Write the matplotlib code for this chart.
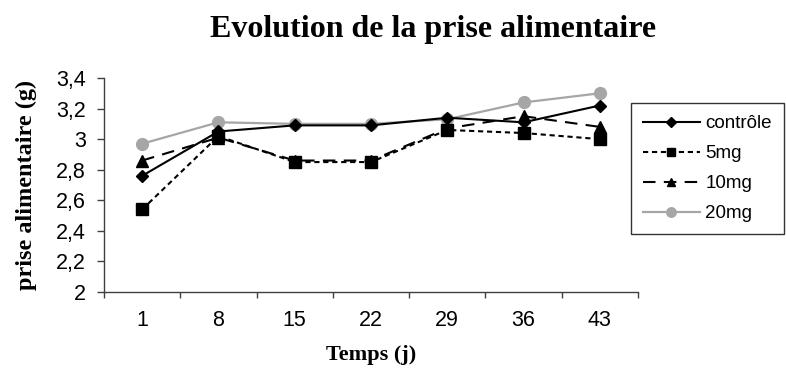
import numpy as np
import matplotlib.pyplot as plt

jours = ["1", "8", "15", "22", "29", "36", "43"]
controle = [2.76, 3.05, 3.09, 3.09, 3.14, 3.11, 3.22]
dose_5mg = [2.54, 3.02, 2.85, 2.85, 3.06, 3.04, 3.00]
dose_10mg = [2.86, 3.01, 2.86, 2.86, 3.07, 3.15, 3.08]
dose_20mg = [2.97, 3.11, 3.10, 3.10, 3.13, 3.24, 3.30]

fig = plt.figure(figsize=(7.86, 3.71), dpi=100)
ax = fig.add_axes([0.1323, 0.2129, 0.6794, 0.5769])

x = np.arange(len(jours))
ax.plot(x, dose_20mg, color="#a6a6a6", lw=1.6, marker="o", ms=8.5, label="20mg", zorder=2)
ax.plot(x, dose_10mg, color="black", lw=1.5, ls=(0, (6, 4)), marker="^", ms=8, label="10mg", zorder=3)
ax.plot(x, dose_5mg, color="black", lw=1.5, ls=(0, (2.5, 1.8)), marker="s", ms=8, label="5mg", zorder=4)
ax.plot(x, controle, color="black", lw=1.5, marker="D", ms=6, label="contrôle", zorder=5)

ax.set_xlim(-0.5, len(jours) - 0.5)
ax.set_ylim(2, 3.4)
ax.set_xticks(np.arange(-0.5, len(jours)))
ax.set_xticklabels([])
ax.set_xticks(x, minor=True)
ax.set_xticklabels(jours, minor=True, fontsize=15.5, family="Liberation Sans")
ax.tick_params(axis="x", which="minor", length=0, pad=13)
ax.tick_params(axis="x", which="major", direction="out", length=4, width=1, color="#404040")

yt = np.arange(2, 3.41, 0.2)
ax.set_yticks(yt)
ax.set_yticklabels([("%g" % round(v, 1)).replace(".", ",") for v in yt],
                   fontsize=15.5, family="Liberation Sans")
ax.tick_params(axis="y", direction="out", length=5, width=1, color="#404040", pad=8)

for s in ["top", "right"]:
    ax.spines[s].set_visible(False)
for s in ["left", "bottom"]:
    ax.spines[s].set_color("#404040")
    ax.spines[s].set_linewidth(1)

ax.set_xlabel("Temps (j)", fontsize=16, fontweight="bold", family="Liberation Serif", labelpad=10)
ax.set_ylabel("prise alimentaire (g)", fontsize=17.5, fontweight="bold", family="Liberation Serif", labelpad=14)
fig.suptitle("Evolution de la prise alimentaire", x=0.551, y=0.96, fontsize=23,
             fontweight="bold", family="Liberation Serif")

handles, labels = ax.get_legend_handles_labels()
leg = fig.legend(handles[::-1], labels[::-1], loc="upper left", bbox_to_anchor=(0.803, 0.722),
                 frameon=True, fancybox=False, edgecolor="black",
                 prop={"family": "Liberation Sans", "size": 13.5}, handlelength=3.0,
                 labelspacing=0.68, borderpad=0.65, borderaxespad=0, handletextpad=0.3,
                 markerscale=0.8)
leg.get_frame().set_linewidth(1)

fig.savefig("out.png", dpi=100)
